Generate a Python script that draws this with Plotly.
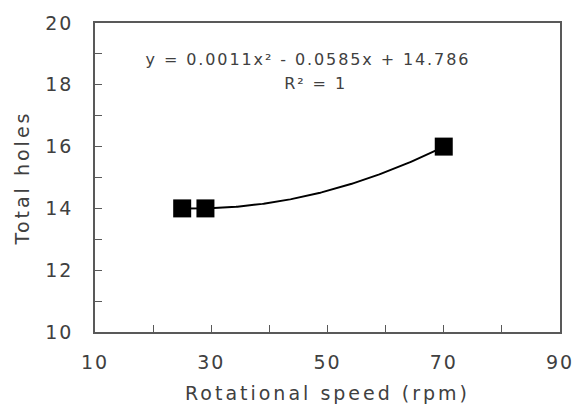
import numpy as np
import plotly.graph_objects as go

speed = [25, 29, 70]
holes = [14, 14, 16]
x_ticks = [10, 30, 50, 70, 90]
y_ticks = [10, 12, 14, 16, 18, 20]
eq_line1 = "y = 0.0011x² - 0.0585x + 14.786"
eq_line2 = "R² = 1"

coef = np.polyfit(speed, holes, 2)
xf = np.linspace(min(speed), max(speed), 200)
yf = np.polyval(coef, xf)

font = "DejaVu Sans"
tcol = "#404040"

fig = go.Figure()
fig.add_trace(go.Scatter(x=xf, y=yf, mode="lines",
                         line=dict(color="black", width=2), showlegend=False,
                         hoverinfo="skip"))
fig.add_trace(go.Scatter(x=speed, y=holes, mode="markers",
                         marker=dict(symbol="square", size=18, color="black"),
                         showlegend=False))

fig.add_annotation(x=0.458, y=0.919, xref="paper", yref="paper", text=eq_line1,
                   showarrow=False, font=dict(family=font, size=16, color=tcol))
fig.add_annotation(x=0.475, y=0.841, xref="paper", yref="paper", text=eq_line2,
                   showarrow=False, font=dict(family=font, size=16, color=tcol))

axis_common = dict(showline=True, linecolor="#595959", linewidth=1.5, mirror=True,
                   showgrid=False, zeroline=False, ticks="inside", ticklen=7,
                   tickcolor="#595959", tickwidth=1.2, automargin=False,
                   tickfont=dict(family=font, size=19, color=tcol))

fig.update_xaxes(range=[10, 90], tickvals=x_ticks, ticklabelstandoff=12,
                 minor=dict(dtick=10, tick0=10, ticks="inside", ticklen=7,
                            tickcolor="#595959", tickwidth=1.2),
                 title=dict(text="Rotational speed (rpm)", standoff=15,
                            font=dict(family=font, size=19, color=tcol)),
                 **axis_common)
fig.update_yaxes(range=[10, 20], tickvals=y_ticks, ticklabelstandoff=16,
                 minor=dict(dtick=1, tick0=10, ticks="inside", ticklen=7,
                            tickcolor="#595959", tickwidth=1.2),
                 title=dict(text="Total holes", standoff=15,
                            font=dict(family=font, size=19, color=tcol)),
                 **axis_common)

fig.update_layout(width=575, height=410, plot_bgcolor="white", paper_bgcolor="white",
                  margin=dict(l=95, r=15, t=23, b=78))

post = """
document.body.style.margin = '0';
document.body.style.overflow = 'hidden';
var s = document.createElement('style');
s.textContent = '.xtick text, .ytick text {letter-spacing: 2px;}'
  + ' .xtitle, .ytitle {letter-spacing: 3px;}'
  + ' .annotation-text {letter-spacing: 1.9px;}';
document.head.appendChild(s);
"""

fig.write_html("out.html", post_script=post, config={"displayModeBar": False})
